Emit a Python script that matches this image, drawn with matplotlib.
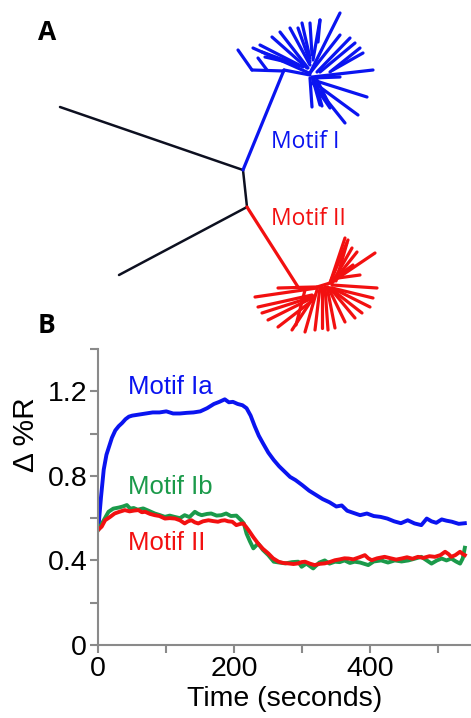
import matplotlib
matplotlib.use("Agg")
import matplotlib.pyplot as plt
import numpy as np

# ---------------- Panel B data ----------------
blue_t = [0, 4, 8, 12, 16, 20, 25, 30, 35, 40, 45, 50, 60, 70, 80, 90, 100, 110, 120, 130,
          140, 150, 160, 170, 178, 186, 192, 198, 205, 212, 218, 224, 230, 236, 242, 250, 258,
          266, 274, 282, 290, 300, 310, 320, 330, 340, 350, 358, 366, 375, 385, 395, 405, 415,
          425, 435, 445, 455, 465, 475, 483, 490, 497, 505, 512, 520, 530, 539]
blue_v = [0.55, 0.70, 0.83, 0.90, 0.94, 0.98, 1.015, 1.035, 1.05, 1.068, 1.08, 1.085, 1.09,
          1.095, 1.10, 1.10, 1.105, 1.095, 1.095, 1.098, 1.10, 1.105, 1.12, 1.14, 1.15, 1.162,
          1.148, 1.15, 1.14, 1.134, 1.12, 1.085, 1.035, 0.99, 0.955, 0.91, 0.875, 0.845, 0.82,
          0.795, 0.78, 0.756, 0.73, 0.71, 0.69, 0.675, 0.655, 0.66, 0.635, 0.625, 0.614, 0.622,
          0.61, 0.606, 0.598, 0.585, 0.576, 0.59, 0.575, 0.567, 0.598, 0.585, 0.578, 0.594,
          0.588, 0.583, 0.573, 0.576]

green_t = [0, 8, 15, 22, 30, 36, 42, 47, 52, 58, 66, 74, 83, 90, 98, 105, 112, 120, 127, 134,
           142, 147, 152, 160, 166, 174, 181, 188, 195, 203, 210, 214, 218, 223, 228, 235, 242,
           250, 258, 266, 275, 285, 294, 299, 306, 316, 325, 333, 340, 348, 355, 362, 370, 377,
           385, 397, 405, 416, 426, 436, 446, 456, 465, 475, 483, 490, 498, 505, 512, 519, 526,
           532, 536, 539]
green_v = [0.545, 0.59, 0.63, 0.645, 0.65, 0.655, 0.662, 0.645, 0.648, 0.64, 0.646, 0.635,
           0.622, 0.615, 0.606, 0.612, 0.606, 0.60, 0.614, 0.605, 0.63, 0.62, 0.614, 0.62,
           0.622, 0.612, 0.614, 0.622, 0.61, 0.612, 0.59, 0.575, 0.527, 0.49, 0.457, 0.48,
           0.45, 0.425, 0.394, 0.39, 0.386, 0.392, 0.394, 0.37, 0.385, 0.362, 0.39, 0.40,
           0.385, 0.394, 0.392, 0.40, 0.388, 0.394, 0.39, 0.378, 0.395, 0.40, 0.39, 0.40, 0.395,
           0.40, 0.408, 0.417, 0.40, 0.385, 0.40, 0.409, 0.40, 0.409, 0.395, 0.385, 0.41, 0.46]

red_t = [0, 5, 10, 17, 24, 31, 39, 46, 53, 59, 64, 69, 76, 83, 90, 98, 105, 113, 120, 127,
         132, 137, 142, 147, 154, 162, 169, 176, 181, 186, 191, 197, 203, 208, 213, 217, 221,
         228, 235, 242, 250, 257, 265, 272, 279, 287, 294, 299, 304, 311, 318, 326, 333, 340,
         348, 355, 362, 368, 375, 384, 392, 397, 402, 410, 421, 430, 438, 446, 454, 462, 470,
         478, 487, 495, 503, 510, 515, 519, 525, 532, 536, 539]
red_v = [0.545, 0.56, 0.59, 0.605, 0.622, 0.63, 0.638, 0.632, 0.636, 0.638, 0.628, 0.63,
         0.62, 0.614, 0.61, 0.598, 0.60, 0.598, 0.59, 0.575, 0.585, 0.59, 0.58, 0.575, 0.585,
         0.59, 0.586, 0.583, 0.588, 0.59, 0.585, 0.583, 0.567, 0.572, 0.575, 0.56, 0.543,
         0.51, 0.48, 0.455, 0.433, 0.41, 0.394, 0.388, 0.386, 0.383, 0.386, 0.392, 0.394,
         0.385, 0.378, 0.384, 0.386, 0.392, 0.401, 0.405, 0.41, 0.409, 0.405, 0.415, 0.425,
         0.41, 0.401, 0.41, 0.417, 0.41, 0.404, 0.409, 0.415, 0.408, 0.417, 0.412, 0.42,
         0.417, 0.425, 0.441, 0.43, 0.417, 0.425, 0.441, 0.43, 0.425]

# ---------------- Panel A data: unrooted tree, segments (x0, y0, x1, y1) in image units ----
trunk_x0 = [60, 243, 247]
trunk_y0 = [107, 170, 207]
trunk_x1 = [243, 247, 119]
trunk_y1 = [170, 207, 275]

blue_x0 = [243, 284, 252, 267, 284,
           309, 303, 307, 308, 310, 310, 310, 312, 313, 300, 296,
           310, 318, 310, 317, 320, 330, 333,
           312, 312, 313, 313, 313, 313, 310, 313, 317, 315]
blue_y0 = [170, 71, 70, 70, 70,
           73, 67, 68, 68, 65, 62, 58, 55, 60, 66, 64,
           73, 42, 73, 72, 72, 72, 70,
           77, 78, 80, 82, 83, 83, 78, 80, 80, 82]
blue_x1 = [284, 252, 238, 258, 310,
           253, 260, 272, 280, 290, 298, 302, 310, 320, 262, 265,
           340, 320, 340, 350, 355, 360, 363,
           373, 340, 367, 358, 345, 330, 312, 320, 328, 322]
blue_y1 = [70, 70, 50, 58, 75,
           48, 45, 37, 32, 28, 28, 23, 23, 20, 52, 57,
           13, 20, 35, 38, 43, 48, 53,
           70, 77, 97, 115, 123, 108, 107, 105, 102, 106]

red_x0 = [247, 298, 317,
          317, 317, 312, 312, 312, 313, 315, 305,
          317, 320, 322, 325, 327, 328, 330, 330, 332, 332, 332,
          330, 330, 332, 333, 335, 338, 338, 336]
red_y0 = [207, 287, 287,
          288, 287, 295, 297, 298, 300, 295, 290,
          290, 287, 287, 287, 287, 287, 288, 288, 288, 288, 285,
          283, 283, 283, 282, 280, 278, 276, 281]
red_x1 = [298, 317, 330,
          255, 278, 258, 262, 268, 278, 292, 296,
          305, 315, 322, 328, 335, 345, 355, 362, 370, 373, 377,
          345, 348, 352, 357, 375, 360, 353, 347]
red_y1 = [287, 287, 283,
          297, 288, 307, 313, 320, 327, 330, 325,
          332, 330, 328, 330, 328, 322, 318, 313, 307, 298, 288,
          238, 240, 248, 252, 253, 275, 265, 243]

COL_BLUE = "#0a14f0"
COL_RED = "#f21010"
COL_GREEN = "#1b9a4a"
COL_DARK = "#0d1020"

W, H = 471, 718
fig = plt.figure(figsize=(W / 100, H / 100), dpi=100)

# ---------------- Panel A ----------------
axA = fig.add_axes([0, 0, 1, 1])
axA.set_xlim(0, W)
axA.set_ylim(H, 0)
axA.axis("off")
for x0, y0, x1, y1 in zip(trunk_x0, trunk_y0, trunk_x1, trunk_y1):
    axA.plot([x0, x1], [y0, y1], color=COL_DARK, lw=1.8, solid_capstyle="round")
for x0, y0, x1, y1 in zip(blue_x0, blue_y0, blue_x1, blue_y1):
    axA.plot([x0, x1], [y0, y1], color=COL_BLUE, lw=2.3, solid_capstyle="round")
for x0, y0, x1, y1 in zip(red_x0, red_y0, red_x1, red_y1):
    axA.plot([x0, x1], [y0, y1], color=COL_RED, lw=2.3, solid_capstyle="round")

tree_font = ["Open Sans", "DejaVu Sans"]
axA.text(271, 142, "Motif I", color=COL_BLUE, fontsize=16.5, family=tree_font,
         ha="left", va="center")
axA.text(271, 219, "Motif II", color=COL_RED, fontsize=16.5, family=tree_font,
         ha="left", va="center")

fig.text(38 / W, 1 - 32 / H, "A", fontsize=19, fontweight="bold", family=tree_font,
         ha="left", va="center")
fig.text(38 / W, 1 - 325 / H, "B", fontsize=19, fontweight="bold", family=tree_font,
         ha="left", va="center")

# ---------------- Panel B ----------------
bfont = ["Liberation Sans", "DejaVu Sans"]
axB = fig.add_axes([98.3 / W, 1 - 645 / H, (470 - 98.3) / W, (645 - 349) / H])
axB.patch.set_alpha(0)
axB.plot(blue_t, blue_v, color=COL_BLUE, lw=2.8, solid_joinstyle="round")
axB.plot(green_t, green_v, color=COL_GREEN, lw=2.8, solid_joinstyle="round")
axB.plot(red_t, red_v, color=COL_RED, lw=2.8, solid_joinstyle="round")

axB.set_xlim(0, 546.6)
axB.set_ylim(0, 1.4)
for s in ["top", "right"]:
    axB.spines[s].set_visible(False)
for s in ["left", "bottom"]:
    axB.spines[s].set_color("#8a8a8a")
    axB.spines[s].set_linewidth(1.5)

yt = np.arange(0, 1.41, 0.2)
axB.set_yticks(yt)
axB.set_yticklabels(["0" if abs(v) < 1e-9 else (f"{v:.1f}" if i % 2 == 0 else "")
                     for i, v in enumerate(yt)])
xt = np.arange(0, 501, 100)
axB.set_xticks(xt)
axB.set_xticklabels([f"{int(v)}" if i % 2 == 0 else "" for i, v in enumerate(xt)])
axB.tick_params(axis="both", direction="out", length=6, width=1.5, color="#8a8a8a",
                labelsize=20.5, pad=2)
for lab in axB.get_xticklabels() + axB.get_yticklabels():
    lab.set_family(bfont)
axB.set_xlabel("Time (seconds)", fontsize=20.5, family=bfont, labelpad=3)
fig.text(26 / W, 1 - 435 / H, "Δ %R", rotation=90, fontsize=21.5, family=bfont,
         ha="center", va="center")

axB.text(43.7, 1.219, "Motif Ia", color=COL_BLUE, fontsize=18.5, family=bfont,
         ha="left", va="center")
axB.text(43.7, 0.746, "Motif Ib", color=COL_GREEN, fontsize=18.5, family=bfont,
         ha="left", va="center")
axB.text(43.7, 0.482, "Motif II", color=COL_RED, fontsize=18.5, family=bfont,
         ha="left", va="center")

fig.savefig("out.png", dpi=100)
